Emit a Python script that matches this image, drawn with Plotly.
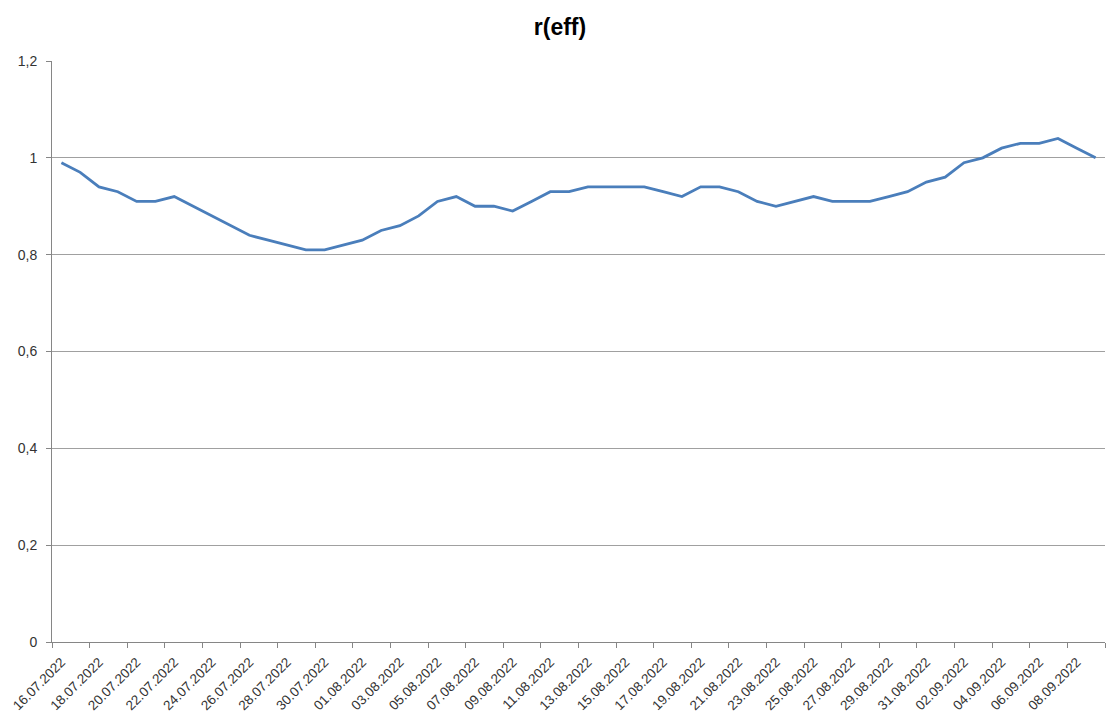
import plotly.graph_objects as go
from datetime import date, timedelta

start = date(2022, 7, 16)
dates = [(start + timedelta(days=i)).strftime("%d.%m.%Y") for i in range(56)]
r_eff = [0.99, 0.97, 0.94, 0.93, 0.91, 0.91, 0.92, 0.90, 0.88, 0.86,
         0.84, 0.83, 0.82, 0.81, 0.81, 0.82, 0.83, 0.85, 0.86, 0.88,
         0.91, 0.92, 0.90, 0.90, 0.89, 0.91, 0.93, 0.93, 0.94, 0.94,
         0.94, 0.94, 0.93, 0.92, 0.94, 0.94, 0.93, 0.91, 0.90, 0.91,
         0.92, 0.91, 0.91, 0.91, 0.92, 0.93, 0.95, 0.96, 0.99, 1.00,
         1.02, 1.03, 1.03, 1.04, 1.02, 1.00]

idx = list(range(len(dates)))
label_idx = idx[::2]
label_text = [dates[i] for i in label_idx]
boundaries = [i - 0.5 for i in range(0, len(dates) + 1, 2)]

fig = go.Figure()
fig.add_trace(go.Scatter(x=idx, y=r_eff, mode="lines",
                         line=dict(color="#4A7EBB", width=2.8),
                         hoverinfo="skip", showlegend=False))

fig.update_layout(
    width=1104, height=705,
    margin=dict(l=44, r=7, t=53, b=71, autoexpand=False),
    paper_bgcolor="white", plot_bgcolor="white",
    separators=",.",
    font=dict(family="Liberation Sans, Arial, sans-serif", color="#333333", size=12),
    title=dict(text="<b>r(eff)</b>", x=0.5, xanchor="center", y=1 - 19 / 705,
               yanchor="middle", font=dict(size=23, color="#000000")),
    xaxis=dict(range=[-0.5, len(dates) - 0.5], tickmode="array",
               tickvals=label_idx, ticktext=label_text, tickangle=-45,
               ticks="", showgrid=False, zeroline=False, automargin=False,
               showline=True, linecolor="#868686", linewidth=1,
               ticklabelstandoff=6,
               tickfont=dict(size=13.5, color="#333333"),
               minor=dict(tickmode="array", tickvals=boundaries, ticks="outside",
                          ticklen=5, tickcolor="#868686", showgrid=False)),
    yaxis=dict(range=[0, 1.2], tickmode="array",
               tickvals=[0, 0.2, 0.4, 0.6, 0.8, 1.0, 1.2],
               ticks="outside", ticklen=5, tickcolor="#868686",
               showgrid=True, gridcolor="#A0A0A0", gridwidth=1,
               zeroline=False, showline=True, linecolor="#868686", linewidth=1,
               automargin=False, ticklabelstandoff=6,
               tickfont=dict(size=14, color="#333333")),
)

fig.write_html("out.html")
